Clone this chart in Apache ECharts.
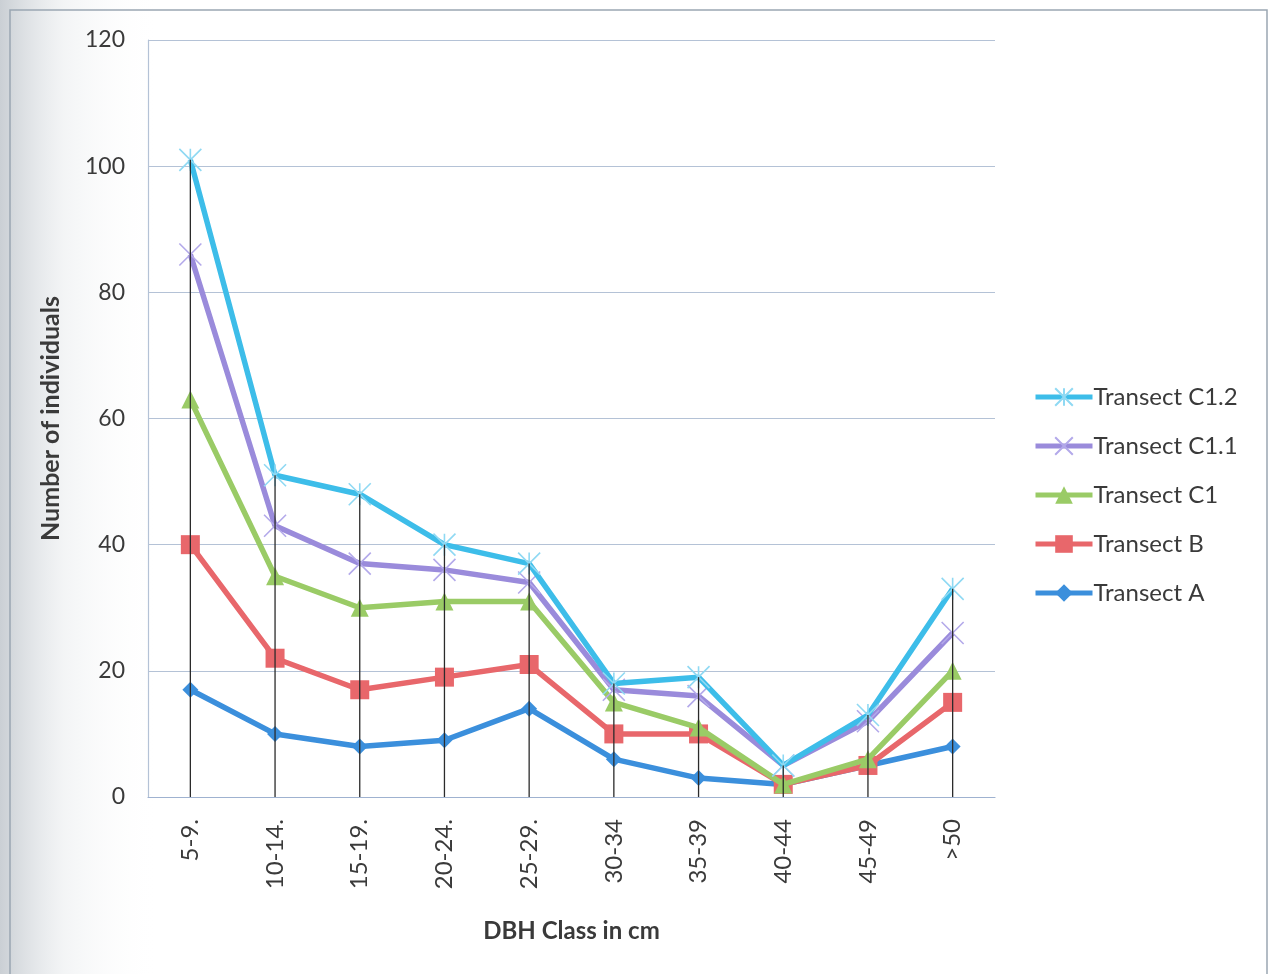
<!DOCTYPE html>
<html>
<head>
<meta charset="utf-8">
<title>DBH class distribution</title>
<script src="https://cdn.jsdelivr.net/npm/echarts@6/dist/echarts.min.js"></script>
<style>
  html, body { margin: 0; padding: 0; background: #ffffff; }
  #chart { width: 1272px; height: 974px; }
</style>
</head>
<body>
<div id="chart"></div>
<script>
// DBH classes (cm)
const categories = ['5-9.', '10-14.', '15-19.', '20-24.', '25-29.', '30-34', '35-39', '40-44', '45-49', '>50'];

// Number of individuals per transect
const transectC12 = [101, 51, 48, 40, 37, 18, 19, 5, 13, 33];
const transectC11 = [86, 43, 37, 36, 34, 17, 16, 5, 12, 26];
const transectC1  = [63, 35, 30, 31, 31, 15, 11, 2, 6, 20];
const transectB   = [40, 22, 17, 19, 21, 10, 10, 2, 5, 15];
const transectA   = [17, 10, 8, 9, 14, 6, 3, 2, 5, 8];

const yTicks = [0, 20, 40, 60, 80, 100, 120];

const seriesDefs = [
  { name: 'Transect C1.2', data: transectC12, color: '#3dbde9', markColor: '#8fd9f3',
    symbol: 'path://M0,0L10,10M10,0L0,10M5,0L5,10', size: 22, stroke: true },
  { name: 'Transect C1.1', data: transectC11, color: '#9a8bdb', markColor: '#b3a9ea',
    symbol: 'path://M0,0L10,10M10,0L0,10', size: 22, stroke: true },
  { name: 'Transect C1',   data: transectC1,  color: '#9acb66', markColor: '#9acb66',
    symbol: 'triangle', size: 18, stroke: false },
  { name: 'Transect B',    data: transectB,   color: '#e8676b', markColor: '#e8676b',
    symbol: 'rect', size: 19, stroke: false },
  { name: 'Transect A',    data: transectA,   color: '#3b8fdc', markColor: '#3b8fdc',
    symbol: 'diamond', size: 16, stroke: false }
];

// Drop line height for each class: the tallest value among the transects
const allSeries = seriesDefs.map(s => s.data);
const dropTops = categories.map((c, i) => [i, Math.max.apply(null, allSeries.map(d => d[i]))]);

const font = 'Lato, "Open Sans", sans-serif';
const textColor = '#3a3a3a';

const lineSeries = seriesDefs.map((s, k) => ({
  name: s.name,
  type: 'line',
  data: s.data,
  symbol: s.symbol,
  symbolSize: s.size,
  showAllSymbol: true,
  z: 10 - k,
  lineStyle: { color: s.color, width: 5.5 },
  itemStyle: s.stroke
    ? { color: 'rgba(0,0,0,0)', borderColor: s.markColor, borderWidth: 1.6 }
    : { color: s.markColor, borderWidth: 0 },
  emphasis: { disabled: true }
}));

const dropLines = {
  name: 'drop',
  type: 'custom',
  data: dropTops,
  z: 20,
  silent: true,
  renderItem: function (params, api) {
    const top = api.coord([api.value(0), api.value(1)]);
    const bottom = api.coord([api.value(0), 0]);
    return {
      type: 'line',
      shape: { x1: top[0], y1: top[1], x2: bottom[0], y2: bottom[1] },
      style: { stroke: '#2b2b2b', lineWidth: 1.3 }
    };
  }
};

const chart = echarts.init(document.getElementById('chart'), null, { renderer: 'canvas' });

chart.setOption({
  backgroundColor: '#ffffff',
  animation: false,
  graphic: [
    {
      type: 'rect',
      z: -10,
      shape: { x: 0, y: 0, width: 160, height: 974 },
      style: {
        fill: {
          type: 'linear', x: 0, y: 0, x2: 1, y2: 0,
          colorStops: [
            { offset: 0, color: 'rgba(150,160,170,0.5)' },
            { offset: 0.4, color: 'rgba(195,202,208,0.2)' },
            { offset: 1, color: 'rgba(255,255,255,0)' }
          ]
        }
      }
    },
    {
      type: 'rect',
      z: -5,
      shape: { x: 10, y: 10, width: 1257, height: 990 },
      style: { fill: 'none', stroke: '#9aa6b2', lineWidth: 1.5 }
    }
  ],
  grid: { left: 148, right: 277, top: 40, bottom: 177, containLabel: false },
  legend: {
    orient: 'vertical',
    left: 1028,
    top: 380,
    itemWidth: 57,
    itemHeight: 22,
    itemGap: 25,
    selectedMode: false,
    lineStyle: { width: 5 },
    data: seriesDefs.map(s => s.name),
    textStyle: { fontFamily: font, fontSize: 24, color: textColor, padding: [0, 0, 0, -4] }
  },
  xAxis: {
    type: 'category',
    data: categories,
    boundaryGap: true,
    name: 'DBH Class in cm',
    nameLocation: 'middle',
    nameGap: 122,
    nameTextStyle: { fontFamily: font, fontSize: 24, fontWeight: 'bold', color: textColor },
    axisLine: { lineStyle: { color: '#9fb2d0', width: 1.2 } },
    axisTick: { show: false },
    axisLabel: { rotate: 90, margin: 22, fontFamily: font, fontSize: 24, color: textColor },
    splitLine: { show: false }
  },
  yAxis: {
    type: 'value',
    min: yTicks[0],
    max: yTicks[yTicks.length - 1],
    interval: yTicks[1] - yTicks[0],
    name: 'Number of individuals',
    nameLocation: 'middle',
    nameGap: 85,
    nameTextStyle: { fontFamily: font, fontSize: 25, fontWeight: 'bold', color: textColor },
    axisLine: { show: true, lineStyle: { color: '#b4c2d6', width: 1.2 } },
    axisTick: { show: false },
    axisLabel: { margin: 23, fontFamily: font, fontSize: 23, color: textColor },
    splitLine: { lineStyle: { color: '#b4c2d6', width: 1.2 } }
  },
  series: lineSeries.concat([dropLines])
});
</script>
</body>
</html>
